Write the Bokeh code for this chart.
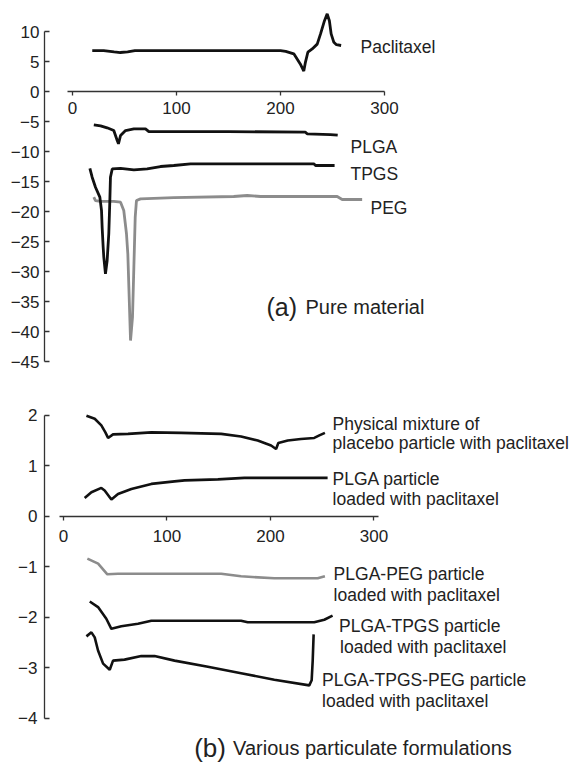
from bokeh.plotting import figure
from bokeh.models import Range1d, LinearAxis, FixedTicker, Label
from bokeh.layouts import column
from bokeh.embed import file_html
from bokeh.resources import INLINE

FONT = "Liberation Sans"
BLACK = "#111111"
GRAY = "#8c8c8c"
TXT = "#222222"

# ---------------- (a) Pure material ----------------
pac_x = [19, 30, 40, 46, 53, 60, 100, 150, 200, 205, 212.8, 219, 222.4, 224, 226.3, 230.5,
         235.3, 238.5, 242.3, 244.9, 247, 248.7, 251.3, 253.8, 258.3]
pac_y = [6.83, 6.83, 6.6, 6.5, 6.6, 6.83, 6.83, 6.83, 6.83, 6.7, 6.28, 4.6, 3.4, 4.9, 6.55, 7.1,
         7.9, 9.6, 11.8, 12.95, 11.8, 9.6, 8.2, 7.8, 7.67]

plga_x = [20.5, 27, 33.3, 39.7, 43, 44.2, 46.2, 51, 59, 70.2, 73.4, 150, 224, 225.6, 248, 255]
plga_y = [-5.55, -5.72, -6.05, -6.5, -8.17, -8.72, -7.33, -6.5, -6.22, -6.22, -6.67, -6.67,
          -6.78, -7.05, -7.17, -7.28]

tpgs_x = [16.7, 18.9, 22.1, 26.3, 27.9, 28.5, 29.5, 30.1, 31.7, 33.3, 34.9, 35.9, 36.5, 38.2,
          46.2, 59, 71.8, 84.6, 97.4, 113.5, 232, 233.7, 252]
tpgs_y = [-12.8, -14.28, -15.95, -17.6, -19.83, -22.6, -25.95, -27.6, -30.4, -28.2, -23.7,
          -18.2, -14.28, -12.9, -12.8, -13.05, -12.9, -12.5, -12.33, -12.05, -12.05, -12.33, -12.33]

peg_x = [20.5, 22.1, 26.9, 39.7, 46.2, 49.3, 51.9, 53.2, 54.2, 55.1, 55.8, 57.7, 59, 60.3, 61.5,
         65.4, 97.4, 155, 168, 180.8, 219, 254.5, 259.3, 278.5]
peg_y = [-17.6, -18.17, -18.3, -18.3, -18.45, -19.83, -23.7, -27.05, -32.6, -37.6, -41.5, -37.6,
         -29.3, -20.95, -18.17, -17.9, -17.7, -17.5, -17.33, -17.5, -17.5, -17.5, -18, -18]

a_yticks = [10, 5, 0, -5, -10, -15, -20, -25, -30, -35, -40, -45]
a_xticks = [0, 100, 200, 300]

a_labels = ["Paclitaxel", "PLGA", "TPGS", "PEG"]
a_label_x = [277, 267.3, 267.3, 286.5]
a_label_y = [7.38, -9.17, -13.72, -19.33]

# ---------------- (b) Various particulate formulations ----------------
phys_x = [22.2, 30.2, 36.6, 40.5, 43.1, 47.9, 62.4, 84.9, 113.8, 152.4, 171.6, 187.7, 200.6,
          205.4, 207.6, 216.7, 229.4, 242.3, 247.2, 252.6]
phys_y = [1.99, 1.93, 1.80, 1.66, 1.55, 1.62, 1.63, 1.66, 1.65, 1.63, 1.58, 1.50, 1.40,
          1.33, 1.45, 1.50, 1.53, 1.55, 1.60, 1.65]

plgap_x = [20.5, 27, 36.6, 39.8, 46.3, 52.7, 65.6, 84.9, 107.3, 117, 149.2, 174.8, 203.7, 255.2]
plgap_y = [0.36, 0.475, 0.56, 0.51, 0.33, 0.44, 0.54, 0.64, 0.69, 0.71, 0.73, 0.76, 0.76, 0.76]

pegp_x = [23.1, 33.5, 42.4, 52.7, 75.2, 152.4, 171.6, 203.7, 245.6, 252.6]
pegp_y = [-0.84, -0.94, -1.15, -1.14, -1.14, -1.14, -1.19, -1.23, -1.23, -1.19]

tpgsp_x = [25.4, 33.4, 41.4, 46.3, 55.9, 72, 84.9, 171.6, 178, 242.3, 252, 260]
tpgsp_y = [-1.69, -1.80, -2.03, -2.23, -2.18, -2.13, -2.07, -2.07, -2.10, -2.10, -2.05, -1.97]

tpp_x = [22.2, 27, 30.2, 33.4, 38.3, 44.7, 47.9, 59, 75.2, 88, 107.3, 139.5, 171.6, 203.7,
         237.5, 239.8, 240.8, 241.7]
tpp_y = [-2.38, -2.30, -2.40, -2.66, -2.92, -3.04, -2.86, -2.84, -2.77, -2.77, -2.86, -2.98,
         -3.11, -3.24, -3.35, -3.25, -2.86, -2.34]

b_yticks = [2, 1, 0, -1, -2, -3, -4]
b_xticks = [0, 100, 200, 300]

b_labels = ["Physical mixture of", "placebo particle with paclitaxel",
            "PLGA particle", "loaded with paclitaxel",
            "PLGA-PEG particle", "loaded with paclitaxel",
            "PLGA-TPGS particle", "loaded with paclitaxel",
            "PLGA-TPGS-PEG particle", "loaded with paclitaxel"]
b_label_x = [260, 260, 260, 260, 261, 261, 266.2, 267.2, 249.8, 249.8]
b_label_y = [1.826, 1.44, 0.733, 0.34, -1.154, -1.57, -2.184, -2.6, -3.24, -3.66]


def style_axis(ax, size="17px", standoff=5, tin=0, tout=4):
    ax.axis_line_color = "#333333"
    ax.axis_line_width = 1.3
    ax.major_tick_line_color = "#333333"
    ax.major_tick_line_width = 1.3
    ax.major_tick_in = tin
    ax.major_tick_out = tout
    ax.minor_tick_in = 0
    ax.minor_tick_out = 0
    ax.major_label_text_font = FONT
    ax.major_label_text_font_size = size
    ax.major_label_text_color = TXT
    ax.major_label_standoff = standoff


def make_fig(h, xr, yr, left):
    p = figure(width=575, height=h, x_range=Range1d(*xr), y_range=Range1d(*yr),
               output_backend="svg", toolbar_location=None,
               x_axis_type=None, y_axis_type=None,
               min_border_left=left, min_border_right=0, min_border_top=0, min_border_bottom=0)
    p.outline_line_color = None
    p.background_fill_color = "white"
    p.border_fill_color = "white"
    return p


def add_label(p, x, y, text, size, color=TXT):
    p.add_layout(Label(x=x, y=y, text=text, text_font=FONT, text_font_size=size,
                       text_color=color, text_align="left", text_baseline="alphabetic"))


# ---- top panel (page rows 0..393)
pa = make_fig(393, (-26.92, 483.65), (-50.33, 15.17), 44)
ya = LinearAxis(bounds=(-45, 10), ticker=FixedTicker(ticks=a_yticks))
style_axis(ya, standoff=5, tin=5, tout=0)
pa.add_layout(ya, "left")
xa = LinearAxis(fixed_location=0, bounds=(-5, 300), ticker=FixedTicker(ticks=a_xticks))
style_axis(xa, standoff=6, tin=0, tout=4)
pa.add_layout(xa, "below")

pa.line(pac_x, pac_y, line_color=BLACK, line_width=2.8)
pa.line(plga_x, plga_y, line_color=BLACK, line_width=2.8)
pa.line(peg_x, peg_y, line_color=GRAY, line_width=2.8)
pa.line(tpgs_x, tpgs_y, line_color=BLACK, line_width=2.8)

for t, x, y in zip(a_labels, a_label_x, a_label_y):
    add_label(pa, x, y, t, "17.5px")
add_label(pa, 186.5, -35.83, "(a)", "25px")
add_label(pa, 224, -35.83, "Pure material", "20px")

# ---- bottom panel (page rows 393..765)
pb = make_fig(372, (-18.32, 494.7), (-4.937, 2.43), 43)
yb = LinearAxis(bounds=(-4, 2), ticker=FixedTicker(ticks=b_yticks))
style_axis(yb, standoff=7, tin=5, tout=0)
pb.add_layout(yb, "left")
xb = LinearAxis(fixed_location=0, bounds=(-4, 304), ticker=FixedTicker(ticks=b_xticks))
style_axis(xb, standoff=10, tin=0, tout=4)
pb.add_layout(xb, "below")

pb.line(phys_x, phys_y, line_color=BLACK, line_width=2.6)
pb.line(plgap_x, plgap_y, line_color=BLACK, line_width=2.6)
pb.line(pegp_x, pegp_y, line_color=GRAY, line_width=2.6)
pb.line(tpgsp_x, tpgsp_y, line_color=BLACK, line_width=2.6)
pb.line(tpp_x, tpp_y, line_color=BLACK, line_width=2.6)

for t, x, y in zip(b_labels, b_label_x, b_label_y):
    add_label(pb, x, y, t, "17.5px")
add_label(pb, 126.3, -4.6, "(b)", "26px")
add_label(pb, 163.9, -4.6, "Various particulate formulations", "20px")

layout = column(pa, pb)
open("out.html", "w").write(file_html(layout, INLINE))
